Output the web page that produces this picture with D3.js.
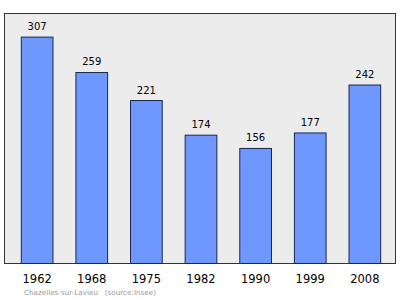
<!DOCTYPE html>
<html>
<head>
<meta charset="utf-8">
<script src="https://cdn.jsdelivr.net/npm/d3@7"></script>
<style>
  body { margin: 0; background: #fff; }
  svg { display: block; font-family: "DejaVu Sans", sans-serif; }
</style>
</head>
<body>
<div id="chart"></div>
<script>
// data
var years = ["1962", "1968", "1975", "1982", "1990", "1999", "2008"];
var population = [307, 259, 221, 174, 156, 177, 242];

var svgWidth = 400;
var svgHeight = 299;

// plot frame
var frame = { left: 4.5, top: 13.5, right: 395.5, bottom: 263.5 };

var svg = d3.select("#chart")
    .append("svg")
    .attr("width", svgWidth)
    .attr("height", svgHeight);

// scales
var xScale = d3.scaleBand()
    .domain(years)
    .range([6, 396])
    .paddingInner(0.42)
    .paddingOuter(0.28);

var yScale = d3.scaleLinear()
    .domain([0, 339])
    .range([frame.bottom, frame.top]);

// background box
svg.append("rect")
    .attr("x", frame.left)
    .attr("y", frame.top)
    .attr("width", frame.right - frame.left)
    .attr("height", frame.bottom - frame.top)
    .attr("fill", "#ececec")
    .attr("stroke", "#333")
    .attr("stroke-width", 1);

// bars
svg.selectAll("rect.bar")
    .data(population)
    .enter()
    .append("rect")
    .attr("class", "bar")
    .attr("x", (d, i) => xScale(years[i]))
    .attr("y", d => yScale(d))
    .attr("width", xScale.bandwidth())
    .attr("height", d => yScale(0) - yScale(d))
    .attr("fill", "#6f98ff")
    .attr("stroke", "#1a2550")
    .attr("stroke-width", 1);

// value labels
svg.selectAll("text.value")
    .data(population)
    .enter()
    .append("text")
    .attr("class", "value")
    .attr("x", (d, i) => xScale(years[i]) + xScale.bandwidth() / 2)
    .attr("y", d => yScale(d) - 7)
    .attr("text-anchor", "middle")
    .attr("font-size", "10px")
    .attr("fill", "#000")
    .text(d => d);

// year axis labels
var bottomAxis = d3.axisBottom(xScale).tickSize(0).tickPadding(0);
var axisGroup = svg.append("g")
    .attr("transform", `translate(0, ${frame.bottom})`)
    .call(bottomAxis);
axisGroup.select(".domain").remove();
axisGroup.selectAll("text")
    .attr("y", 19)
    .attr("dy", 0)
    .attr("font-family", "DejaVu Sans, sans-serif")
    .attr("font-size", "11.5px")
    .attr("fill", "#000");

// footer
svg.append("text")
    .attr("x", 24)
    .attr("y", 295)
    .attr("font-size", "7.2px")
    .attr("fill", "#9a9a9a")
    .attr("xml:space", "preserve")
    .text("Chazelles-sur-Lavieu   (source:Insee)");
</script>
</body>
</html>
